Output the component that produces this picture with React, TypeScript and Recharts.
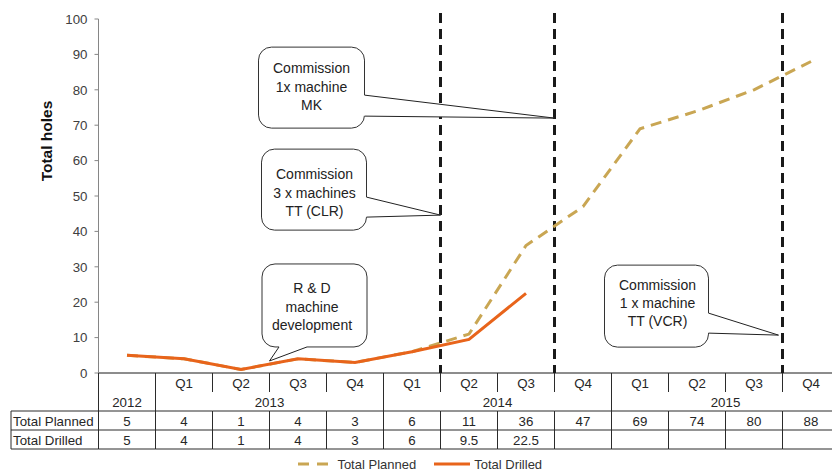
import React from "react";
import {
  ComposedChart,
  Line,
  XAxis,
  YAxis,
  ReferenceLine,
  ReferenceDot,
  Legend,
} from "recharts";

const quarters = ["", "Q1", "Q2", "Q3", "Q4", "Q1", "Q2", "Q3", "Q4", "Q1", "Q2", "Q3", "Q4"];
const years = [
  { label: "2012", start: 0, span: 1 },
  { label: "2013", start: 1, span: 4 },
  { label: "2014", start: 5, span: 4 },
  { label: "2015", start: 9, span: 4 },
];
const totalPlanned = [5, 4, 1, 4, 3, 6, 11, 36, 47, 69, 74, 80, 88];
const totalDrilled: (number | null)[] = [5, 4, 1, 4, 3, 6, 9.5, 22.5, null, null, null, null, null];
const yTicks = [0, 10, 20, 30, 40, 50, 60, 70, 80, 90, 100];
// column boundaries where a machine gets commissioned
const milestones = [6, 8, 12];

const callouts = [
  {
    x: 8, y: 72,
    lines: ["Commission", "1x machine", "MK"],
    box: { dx: -296, dy: -71, w: 106, h: 81 },
    base: [[-190, -23], [-190, -2]],
    text: { dx: -243, dy: [-50, -31, -13] },
  },
  {
    x: 6, y: 44.6,
    lines: ["Commission", "3 x machines", "TT (CLR)"],
    box: { dx: -179, dy: -66, w: 105, h: 81 },
    base: [[-74, -18], [-74, 2]],
    text: { dx: -126, dy: [-41, -22, -4] },
  },
  {
    x: 3, y: 3.4,
    lines: ["R & D", "machine", "development"],
    box: { dx: -7.5, dy: -97, w: 105, h: 83 },
    base: [[9.5, -14], [37.5, -14]],
    text: { dx: 42.5, dy: [-73, -54, -36] },
  },
  {
    x: 11.93, y: 10.7,
    lines: ["Commission", "1 x machine", "TT (VCR)"],
    box: { dx: -174, dy: -70, w: 104, h: 82 },
    base: [[-70, -22], [-70, -2]],
    text: { dx: -121, dy: [-50, -32, -14] },
  },
];

const PLANNED_COLOR = "#C9A653";
const DRILLED_COLOR = "#E8641B";
const FONT = "'Liberation Sans', Arial, sans-serif";

const CHART_W = 845;
const CHART_H = 475;
const Y_AXIS_W = 98.5;
const MARGIN_RIGHT = 5.5;
const COL_W = (CHART_W - Y_AXIS_W - MARGIN_RIGHT) / quarters.length;
const TABLE_LEFT = 11;
const LINE = "#2b2b2b";
const TEXT = "#262626";

const data = quarters.map((q, i) => ({
  pos: i + 0.5,
  quarter: q,
  planned: totalPlanned[i],
  drilled: totalDrilled[i],
}));

function fmt(v: number | null) {
  return v == null ? "" : String(v);
}

function TableTick(props: any) {
  const { x, y, payload } = props;
  const i = Math.round(payload.value - 0.5);
  const left = x - COL_W / 2;
  const right = x + COL_W / 2;
  const groupStart = years.some((g) => g.start === i);
  const year = years.find((g) => g.start === i);
  const txt = { fontFamily: FONT, fontSize: 13.3, fill: TEXT, textAnchor: "middle" as const };

  return (
    <g>
      {groupStart ? (
        <line x1={left} x2={left} y1={y} y2={y + 76} stroke={LINE} />
      ) : (
        <>
          <line x1={left} x2={left} y1={y} y2={y + 19} stroke={LINE} />
          <line x1={left} x2={left} y1={y + 38} y2={y + 76} stroke={LINE} />
        </>
      )}
      {i === quarters.length - 1 && <line x1={right} x2={right} y1={y} y2={y + 76} stroke={LINE} />}
      <line x1={left} x2={right} y1={y + 38} y2={y + 38} stroke={LINE} />
      <line x1={left} x2={right} y1={y + 57} y2={y + 57} stroke={LINE} />
      <line x1={left} x2={right} y1={y + 76} y2={y + 76} stroke={LINE} />
      <text {...txt} x={x} y={y + 15}>{quarters[i]}</text>
      {year && (
        <text {...txt} x={left + (year.span * COL_W) / 2} y={y + 34}>
          {year.label}
        </text>
      )}
      <text {...txt} x={x} y={y + 53}>{fmt(totalPlanned[i])}</text>
      <text {...txt} x={x} y={y + 72}>{fmt(totalDrilled[i])}</text>
      {i === 0 && (
        <>
          <line x1={TABLE_LEFT} x2={left} y1={y + 38} y2={y + 38} stroke={LINE} />
          <line x1={TABLE_LEFT} x2={left} y1={y + 57} y2={y + 57} stroke={LINE} />
          <line x1={TABLE_LEFT} x2={left} y1={y + 76} y2={y + 76} stroke={LINE} />
          <line x1={TABLE_LEFT} x2={TABLE_LEFT} y1={y + 38} y2={y + 76} stroke={LINE} />
          <text {...txt} textAnchor="start" x={TABLE_LEFT + 2} y={y + 53}>Total Planned</text>
          <text {...txt} textAnchor="start" x={TABLE_LEFT + 2} y={y + 72}>Total Drilled</text>
        </>
      )}
    </g>
  );
}

function Callout(props: any) {
  const { cx, cy, c } = props;
  if (cx == null || cy == null) return null;
  const bx = cx + c.box.dx;
  const by = cy + c.box.dy;
  const [b1, b2] = c.base;
  return (
    <g>
      <rect x={bx} y={by} width={c.box.w} height={c.box.h} rx={13} ry={13} fill="#fff" stroke="#333" strokeWidth={1} />
      <polygon
        points={`${cx + b1[0]},${cy + b1[1]} ${cx + b2[0]},${cy + b2[1]} ${cx},${cy}`}
        fill="#fff"
        stroke="none"
      />
      {/* cover the box border under the pointer base */}
      <line x1={cx + b1[0]} y1={cy + b1[1]} x2={cx + b2[0]} y2={cy + b2[1]} stroke="#fff" strokeWidth={2} />
      <line x1={cx + b1[0]} y1={cy + b1[1]} x2={cx} y2={cy} stroke="#222" strokeWidth={1} />
      <line x1={cx + b2[0]} y1={cy + b2[1]} x2={cx} y2={cy} stroke="#222" strokeWidth={1} />
      {c.lines.map((t: string, k: number) => (
        <text
          key={k}
          x={cx + c.text.dx}
          y={cy + c.text.dy[k] + 5}
          textAnchor="middle"
          fontFamily={FONT}
          fontSize={14}
          fill="#222"
        >
          {t}
        </text>
      ))}
    </g>
  );
}

function LegendContent() {
  const item = { display: "flex", alignItems: "center", marginRight: 18 };
  return (
    <div
      style={{
        display: "flex",
        justifyContent: "center",
        fontFamily: FONT,
        fontSize: 13,
        color: "#333",
        height: 22,
        alignItems: "center",
      }}
    >
      <div style={item}>
        <svg width={34} height={6} style={{ marginRight: 6 }}>
          <line x1={1} x2={33} y1={3} y2={3} stroke={PLANNED_COLOR} strokeWidth={3} strokeDasharray="11 8" />
        </svg>
        Total Planned
      </div>
      <div style={{ ...item, marginRight: 0 }}>
        <svg width={38} height={6} style={{ marginRight: 2 }}>
          <line x1={0} x2={36} y1={3} y2={3} stroke={DRILLED_COLOR} strokeWidth={3} />
        </svg>
        Total Drilled
      </div>
    </div>
  );
}

export default function App() {
  return (
    <div style={{ position: "absolute", left: 0, top: 0, width: 832, height: 475, overflow: "hidden", background: "#fff" }}>
      <ComposedChart
        width={CHART_W}
        height={CHART_H}
        data={data}
        margin={{ top: 19, right: MARGIN_RIGHT, left: 0, bottom: 0 }}
      >
        <XAxis
          dataKey="pos"
          type="number"
          domain={[0, quarters.length]}
          ticks={data.map((d) => d.pos)}
          interval={0}
          height={80}
          tickLine={false}
          tickSize={0}
          tickMargin={0}
          axisLine={{ stroke: "#1a1a1a" }}
          tick={<TableTick />}
        />
        <YAxis
          domain={[0, 100]}
          ticks={yTicks}
          width={Y_AXIS_W}
          tickSize={4}
          tickMargin={7}
          axisLine={{ stroke: "#868686" }}
          tickLine={{ stroke: "#868686" }}
          tick={{ fontFamily: FONT, fontSize: 13.3, fill: "#404040" }}
          label={({ viewBox }: any) => (
            <text
              x={viewBox.x + 46}
              y={viewBox.y + 122}
              transform={`rotate(-90 ${viewBox.x + 46} ${viewBox.y + 122})`}
              textAnchor="middle"
              dominantBaseline="central"
              fontFamily={FONT}
              fontSize={15.5}
              fontWeight="bold"
              fill="#111"
            >
              Total holes
            </text>
          )}
        />
        <Legend verticalAlign="bottom" height={22} content={<LegendContent />} />
        {callouts.map((c, k) => (
          <ReferenceDot key={`c-${k}`} x={c.x} y={c.y} r={0} shape={(p: any) => <Callout {...p} c={c} />} />
        ))}
        {milestones.map((m) => (
          <ReferenceLine
            key={`m-${m}`}
            segment={[{ x: m, y: 101.7 }, { x: m, y: 0 }]}
            stroke="#1a1a1a"
            strokeWidth={3}
            strokeDasharray="10 6"
            ifOverflow="visible"
          />
        ))}
        <Line
          type="linear"
          dataKey="planned"
          name="Total Planned"
          stroke={PLANNED_COLOR}
          strokeWidth={3}
          strokeDasharray="11 7"
          dot={false}
          isAnimationActive={false}
        />
        <Line
          type="linear"
          dataKey="drilled"
          name="Total Drilled"
          stroke={DRILLED_COLOR}
          strokeWidth={3}
          dot={false}
          isAnimationActive={false}
        />
      </ComposedChart>
    </div>
  );
}
